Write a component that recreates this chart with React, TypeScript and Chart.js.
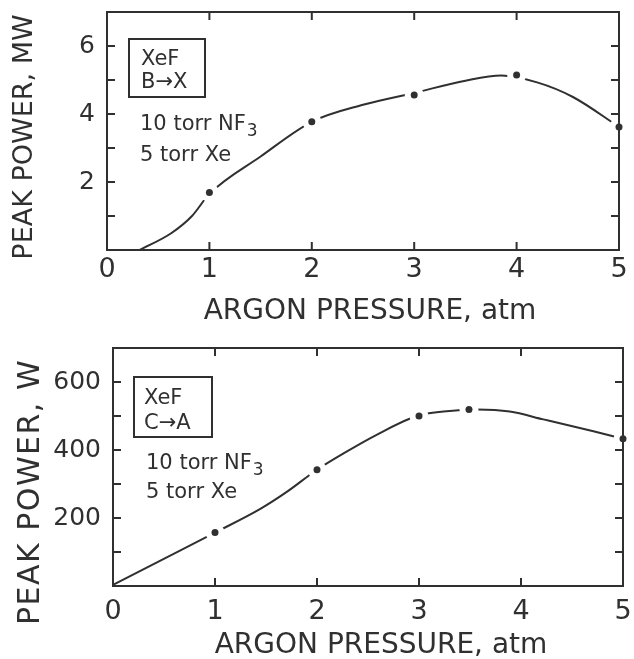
import React, { useEffect, useRef } from "react";
import { Chart, registerables } from "chart.js";

Chart.register(...registerables);

// ---------- data ----------
const PRESSURE_TICKS = [0, 1, 2, 3, 4, 5];

// XeF B->X (top panel), measured peak power in MW
const BX_PRESSURE = [1, 2, 3, 4, 5];
const BX_POWER_MW = [1.69, 3.77, 4.56, 5.15, 3.62];
const BX_CURVE_PRESSURE = [0.32, 0.63, 0.83, 1.0, 1.5, 2.0, 2.5, 3.0, 3.5, 3.85, 4.2, 4.55, 5.0];
const BX_CURVE_MW = [0, 0.5, 1.0, 1.65, 2.75, 3.77, 4.27, 4.62, 4.98, 5.13, 4.93, 4.5, 3.62];

// XeF C->A (bottom panel), measured peak power in W
const CA_PRESSURE = [1, 2, 3, 3.49, 5];
const CA_POWER_W = [157, 342, 500, 519, 433];
const CA_CURVE_PRESSURE = [0, 0.46, 1.0, 1.44, 1.7, 2.0, 2.26, 2.58, 3.0, 3.24, 3.57, 3.89, 4.22, 4.71, 5.0];
const CA_CURVE_W = [3, 74, 157, 226, 276, 342, 390, 444, 502, 513, 519, 513, 490, 455, 433];

const X_TITLE = "ARGON PRESSURE, atm";
const BX_Y_TITLE = "PEAK POWER, MW";
const CA_Y_TITLE = "PEAK POWER, W";
const BX_LABEL = ["XeF", "B\u2192X"];
const CA_LABEL = ["XeF", "C\u2192A"];
const GAS_LINES: [string, string][] = [
  ["10 torr NF", "3"],
  ["5 torr Xe", ""],
];

// ---------- style ----------
const W = 634;
const INK = "#303030";
const FONT = "'DejaVu Sans', 'Liberation Sans', sans-serif";
const TICK_LEN = 8;
const DOT_R = 3.5;
const GAP_R = 9.5;

type Panel = {
  height: number;
  area: { left: number; right: number; top: number; bottom: number };
  yMax: number;
  yStep: number;
  yLabelEvery: number;
  curveX: number[];
  curveY: number[];
  dotX: number[];
  dotY: number[];
  yTitle: string;
  yTitlePos: [number, number];
  yTitleSize: number;
  yTitleSpacing: number;
  xTitlePos: [number, number];
  xTitleSize: number;
  xTickPad: number;
  box: { dx: number; dy: number; w: number; h: number };
  boxLines: string[];
  boxTextDx: number;
  boxLineDy: number[];
  gasDx: number;
  gasDy: number[];
};

const TOP_PANEL: Panel = {
  height: 330,
  area: { left: 107, right: 619, top: 12, bottom: 250 },
  yMax: 7,
  yStep: 1,
  yLabelEvery: 2,
  curveX: BX_CURVE_PRESSURE,
  curveY: BX_CURVE_MW,
  dotX: BX_PRESSURE,
  dotY: BX_POWER_MW,
  yTitle: BX_Y_TITLE,
  yTitlePos: [25, 137],
  yTitleSize: 27,
  yTitleSpacing: 0,
  xTitlePos: [370, 312],
  xTitleSize: 28,
  xTickPad: 4,
  box: { dx: 22, dy: 27, w: 76, h: 58 },
  boxLines: BX_LABEL,
  boxTextDx: 34,
  boxLineDy: [48, 71],
  gasDx: 33,
  gasDy: [113, 144],
};

const BOTTOM_PANEL: Panel = {
  height: 329,
  area: { left: 113, right: 623, top: 18, bottom: 256 },
  yMax: 700,
  yStep: 100,
  yLabelEvery: 200,
  curveX: CA_CURVE_PRESSURE,
  curveY: CA_CURVE_W,
  dotX: CA_PRESSURE,
  dotY: CA_POWER_W,
  yTitle: CA_Y_TITLE,
  yTitlePos: [31, 162],
  yTitleSize: 30,
  yTitleSpacing: 1.5,
  xTitlePos: [381, 316],
  xTitleSize: 28,
  xTickPad: 10,
  box: { dx: 21, dy: 29, w: 78, h: 60 },
  boxLines: CA_LABEL,
  boxTextDx: 31,
  boxLineDy: [51, 76],
  gasDx: 33,
  gasDy: [116, 145],
};

const framePlugin = {
  id: "frame",
  afterDatasetsDraw(chart: any, _args: any, opts: any) {
    const p: Panel = opts.panel;
    const { ctx, chartArea: a, scales } = chart;
    const xs = scales.x;
    const ys = scales.y;

    ctx.save();
    // open a white gap in the curve around every measured point, then redraw the dot
    chart.data.datasets.forEach((ds: any, i: number) => {
      if (ds.label !== "points") return;
      const meta = chart.getDatasetMeta(i);
      for (const el of meta.data) {
        ctx.beginPath();
        ctx.fillStyle = "#ffffff";
        ctx.arc(el.x, el.y, GAP_R, 0, Math.PI * 2);
        ctx.fill();
        ctx.beginPath();
        ctx.fillStyle = INK;
        ctx.arc(el.x, el.y, DOT_R, 0, Math.PI * 2);
        ctx.fill();
      }
    });

    ctx.strokeStyle = INK;
    ctx.fillStyle = INK;
    ctx.lineWidth = 2;
    ctx.lineCap = "butt";
    ctx.strokeRect(a.left, a.top, a.right - a.left, a.bottom - a.top);

    // inward ticks on all four sides
    ctx.beginPath();
    for (const t of xs.ticks) {
      if (t.value <= xs.min || t.value >= xs.max) continue;
      const px = xs.getPixelForValue(t.value);
      ctx.moveTo(px, a.bottom);
      ctx.lineTo(px, a.bottom - TICK_LEN);
      ctx.moveTo(px, a.top);
      ctx.lineTo(px, a.top + TICK_LEN);
    }
    for (const t of ys.ticks) {
      if (t.value <= ys.min || t.value >= ys.max) continue;
      const py = ys.getPixelForValue(t.value);
      ctx.moveTo(a.left, py);
      ctx.lineTo(a.left + TICK_LEN, py);
      ctx.moveTo(a.right, py);
      ctx.lineTo(a.right - TICK_LEN, py);
    }
    ctx.stroke();

    // label box
    ctx.lineWidth = 2;
    ctx.strokeRect(a.left + p.box.dx, a.top + p.box.dy, p.box.w, p.box.h);
    ctx.font = `21px ${FONT}`;
    ctx.textBaseline = "middle";
    ctx.textAlign = "left";
    p.boxLines.forEach((s, i) => {
      ctx.fillText(s, a.left + p.boxTextDx, a.top + p.boxLineDy[i]);
    });
    GAS_LINES.forEach(([main, sub], i) => {
      const x = a.left + p.gasDx;
      const y = a.top + p.gasDy[i];
      ctx.font = `21px ${FONT}`;
      ctx.fillText(main, x, y);
      if (sub) {
        const w = ctx.measureText(main).width;
        ctx.font = `17px ${FONT}`;
        ctx.fillText(sub, x + w + 1, y + 7);
      }
    });

    // axis titles
    ctx.textAlign = "center";
    ctx.font = `${p.xTitleSize}px ${FONT}`;
    ctx.fillText(X_TITLE, p.xTitlePos[0], p.xTitlePos[1]);
    ctx.save();
    ctx.translate(p.yTitlePos[0], p.yTitlePos[1]);
    ctx.rotate(-Math.PI / 2);
    ctx.font = `${p.yTitleSize}px ${FONT}`;
    if (p.yTitleSpacing) (ctx as any).letterSpacing = `${p.yTitleSpacing}px`;
    ctx.fillText(p.yTitle, 0, 0);
    ctx.restore();
    ctx.restore();
  },
};

function buildConfig(p: Panel): any {
  const curve = p.curveX.map((x, i) => ({ x, y: p.curveY[i] }));
  const dots = p.dotX.map((x, i) => ({ x, y: p.dotY[i] }));
  return {
    type: "line",
    data: {
      datasets: [
        {
          label: "curve",
          data: curve,
          borderColor: INK,
          borderWidth: 2,
          pointRadius: 0,
          cubicInterpolationMode: "monotone",
          fill: false,
        },
        {
          label: "points",
          data: dots,
          showLine: false,
          pointRadius: DOT_R,
          pointBackgroundColor: INK,
          pointBorderWidth: 0,
          clip: false,
        },
      ],
    },
    options: {
      responsive: false,
      animation: false,
      events: [],
      layout: {
        padding: {
          left: 0,
          top: p.area.top,
          right: W - p.area.right,
          bottom: 0,
        },
      },
      plugins: {
        legend: { display: false },
        tooltip: { enabled: false },
        frame: { panel: p },
      },
      scales: {
        x: {
          type: "linear",
          min: 0,
          max: 5,
          grid: { display: false, drawTicks: false },
          border: { display: false },
          ticks: {
            stepSize: 1,
            padding: p.xTickPad,
            color: INK,
            font: { family: FONT, size: 27 },
            callback: (v: number) => (PRESSURE_TICKS.includes(v) ? String(v) : ""),
            maxRotation: 0,
          },
          afterFit: (s: any) => {
            s.height = p.height - p.area.bottom;
            s.paddingLeft = 0;
            s.paddingRight = 0;
          },
        },
        y: {
          type: "linear",
          min: 0,
          max: p.yMax,
          grid: { display: false, drawTicks: false },
          border: { display: false },
          ticks: {
            stepSize: p.yStep,
            padding: 12,
            color: INK,
            font: { family: FONT, size: 25 },
            callback: (v: number) =>
              v > 0 && v < p.yMax && v % p.yLabelEvery === 0 ? String(v) : "",
          },
          afterFit: (s: any) => {
            s.width = p.area.left;
            s.paddingTop = 0;
            s.paddingBottom = 0;
          },
        },
      },
    },
    plugins: [framePlugin],
  };
}

function PanelChart({ panel, top }: { panel: Panel; top: number }) {
  const ref = useRef<HTMLCanvasElement>(null);
  useEffect(() => {
    const chart = new Chart(ref.current as HTMLCanvasElement, buildConfig(panel));
    return () => chart.destroy();
  }, [panel]);
  return (
    <div style={{ position: "absolute", left: 0, top, width: W, height: panel.height }}>
      <canvas
        ref={ref}
        width={W}
        height={panel.height}
        style={{ display: "block", width: W, height: panel.height }}
      />
    </div>
  );
}

export default function App() {
  return (
    <div style={{ position: "absolute", left: 0, top: 0, width: W, height: 659, background: "#ffffff" }}>
      <PanelChart panel={TOP_PANEL} top={0} />
      <PanelChart panel={BOTTOM_PANEL} top={330} />
    </div>
  );
}
